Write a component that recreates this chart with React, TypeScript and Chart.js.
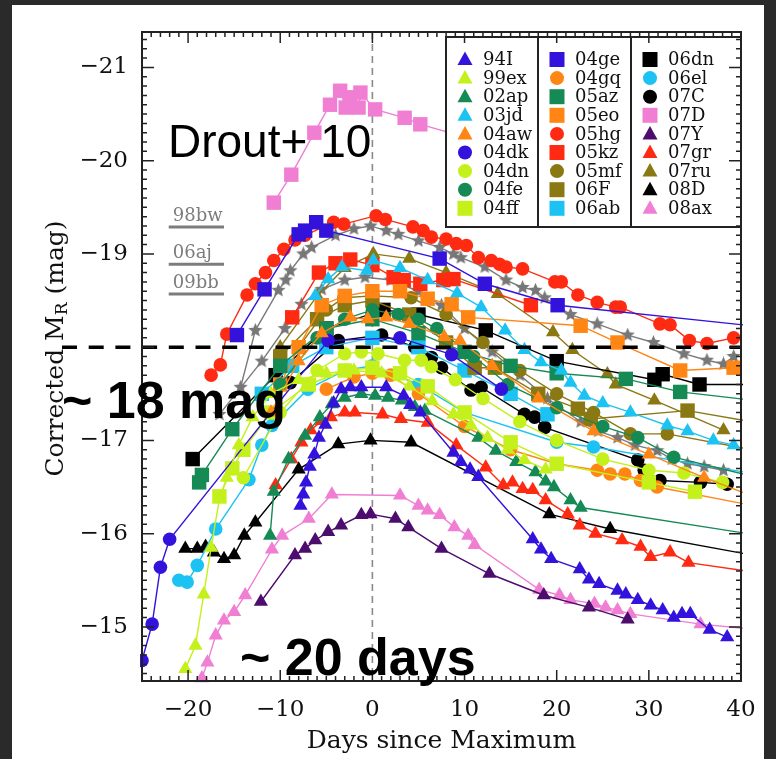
import React, { useEffect, useRef } from 'react';
import { Chart, registerables } from 'chart.js';
Chart.register(...registerables);

// ---------- axes ----------
const xRange = [-25, 40];
const yRange = [-21.38, -14.42];
const xTickValues = [-20, -10, 0, 10, 20, 30, 40];
const yTickValues = [-21, -20, -19, -18, -17, -16, -15];
const yTickLabels = ['\u221221', '\u221220', '\u221219', '', '\u221217', '\u221216', '\u221215'];
const xAxisTitle = 'Days since Maximum';
const yAxisTitleParts = ['Corrected M', 'R', ' (mag)'];

// ---------- light curves [day, corrected M_R] ----------
const sn94I = [[-7.8,-16.3],[-7.5,-16.42],[-7.2,-16.55],[-6.8,-16.72],[-6.3,-16.85],[-5.8,-17.03],[-5.1,-17.17],[-4.2,-17.4],[-3.4,-17.55],[-2.4,-17.57],[-1.2,-17.57],[1.5,-17.57],[3.4,-17.48],[4.1,-17.38],[5.2,-17.3],[8.8,-16.87],[9.6,-16.77],[10.6,-16.69],[11.5,-16.61],[17.4,-15.94],[18.3,-15.83],[19.4,-15.73],[22.5,-15.62],[23.5,-15.51],[24.6,-15.46],[26.6,-15.39],[27.5,-15.35],[28.8,-15.29],[30.2,-15.23],[31.5,-15.18],[32.7,-15.1],[33.6,-15.14],[34.5,-15.14],[36.6,-14.97],[38.5,-14.89]];
const sn99ex = [[-20.3,-14.55],[-19.2,-14.8],[-18.3,-15.35],[-17.5,-15.85],[-16.6,-16.37],[-15.8,-16.6],[-14.5,-16.95],[-13,-17.25],[-11,-17.5],[-8,-17.65],[-5,-17.72],[-2,-17.75],[1,-17.72],[4,-17.58],[6.5,-17.42],[8.8,-17.28],[10.7,-17.16],[12.5,-17.03],[14.7,-16.9],[16.5,-16.79],[18.8,-16.69]];
const sn02ap = [[-11.1,-15.98],[-10.7,-16.45],[-9.1,-16.8],[-7.3,-17.05],[-5.7,-17.25],[-4.4,-17.39],[-3,-17.46],[-1.2,-17.5],[0.3,-17.48],[1.7,-17.46],[3.2,-17.43],[4.6,-17.36],[5.7,-17.32],[11.5,-17.03],[13.4,-16.89],[15.6,-16.77],[17.7,-16.66],[18.8,-16.56],[19.7,-16.5],[21.5,-16.36],[22.6,-16.28],[44,-15.95]];
const sn03jd = [[-6.2,-18.55],[-4.8,-18.73],[-3.3,-18.86],[-0.6,-18.82],[0.1,-18.93],[3,-18.85],[6,-18.72],[9.2,-18.58],[11.8,-18.43],[14.4,-18.18],[16.5,-17.97],[18.3,-17.84],[20.5,-17.75],[21.5,-17.62],[23,-17.48],[25,-17.4],[28,-17.3],[32,-17.16],[34.2,-17.1],[37,-17.0],[39.2,-16.95]];
const sn04aw = [[-11,-17.3],[-8,-17.85],[-5.5,-18.15],[-2.4,-18.32],[-0.5,-18.3],[1.5,-18.32],[4,-18.25],[7.8,-18.11],[9.5,-18.07],[13,-17.8],[18,-17.45],[24,-17.1],[30,-16.85],[36,-16.6],[44,-16.3]];
const sn04dk = [[-25,-14.64],[-23.9,-15.03],[-23,-15.64],[-22,-15.94],[-4.8,-18.07],[3,-18.1],[8.6,-17.92],[14,-17.55]];
const sn04dn = [[-14,-16.6],[-10,-17.3],[-6,-17.75],[-3,-17.93],[-1.2,-17.95],[0.6,-17.93],[3.5,-17.86],[5.3,-17.86],[6.4,-17.79],[9,-17.65],[12,-17.45],[16,-17.2],[20,-17.0],[25,-16.8],[30,-16.68],[33.8,-16.65],[38,-16.55]];
const sn04fe = [[-10,-17.6],[-6,-18.1],[-3,-18.3],[0,-18.4],[2.8,-18.35],[5,-18.3],[7,-18.2],[11,-17.9],[14.7,-17.6],[20,-17.35],[25,-17.15],[28.8,-17.03],[32.7,-16.82],[44,-16.55]];
const sn04ff = [[-16.6,-16.4],[-15.2,-16.7],[-14,-16.9],[-11,-17.3],[-6.9,-17.6],[-3,-17.75],[0,-17.78],[3,-17.72],[6,-17.58],[10,-17.3],[15,-16.98],[20,-16.75],[30,-16.55],[35,-16.45]];
const sn04ge = [[-14.7,-18.13],[-11.7,-18.62],[-8,-19.21],[-7.3,-19.25],[-6.1,-19.34],[-5,-19.25],[7.3,-18.95],[12.2,-18.68],[20.1,-18.45],[44,-18.2]];
const sn04gq = [[-5,-17.55],[-2,-17.68],[0,-17.72],[2,-17.7],[5,-17.5],[10,-17.15],[15,-16.9],[20,-16.75],[24.4,-16.68],[25.8,-16.64],[27.4,-16.64],[29.1,-16.57],[30.9,-16.5],[44,-16.25]];
const sn05az = [[-18.8,-16.55],[-18.5,-16.63],[-15.2,-17.12],[-10,-17.8],[-5,-18.2],[0,-18.3],[5,-18.15],[10,-17.95],[15,-17.8],[20,-17.72],[27.5,-17.66],[33.4,-17.52],[44,-17.4]];
const sn05eo = [[-10,-17.6],[-8,-18.0],[-5.5,-18.45],[-3,-18.55],[0,-18.6],[3,-18.6],[6,-18.52],[8.6,-18.46],[10.4,-18.32],[22.6,-18.23],[26.6,-18.05],[33.4,-17.75],[39.2,-17.78]];
const sn05hg = [[-17.5,-17.7],[-16.5,-17.81],[-15.8,-18.14],[-13.6,-18.56],[-12.7,-18.68],[-11.6,-18.8],[-10.7,-18.93],[-9.6,-19.05],[-8.4,-19.15],[-7.3,-19.2],[-4.2,-19.34],[-3.1,-19.32],[0.4,-19.41],[1.4,-19.37],[4.4,-19.29],[5.5,-19.25],[6.4,-19.18],[8,-19.16],[9.1,-19.11],[10.2,-19.09],[11.5,-18.96],[12.9,-18.93],[13.8,-18.89],[14.5,-18.86],[16.3,-18.84],[19.8,-18.7],[20.5,-18.7],[22.3,-18.56],[24.4,-18.48],[26.4,-18.43],[26.9,-18.43],[31.2,-18.25],[32.3,-18.24],[34.4,-18.07],[36.3,-18.04],[39.2,-18.1]];
const sn05kz = [[-8.7,-18.32],[-5.8,-18.8],[-4,-18.9],[-2.4,-18.94],[0,-18.88],[2.3,-18.75],[3.4,-18.72],[5.2,-18.68],[7.7,-18.72],[8.8,-18.73],[17.2,-18.45]];
const sn05mf = [[-8,-18.0],[-5,-18.4],[-3.1,-18.53],[0,-18.55],[4.2,-18.53],[8,-18.35],[12,-18.05],[16,-17.75],[20,-17.5],[24,-17.3],[28,-17.07],[32,-17.07],[44,-16.85]];
const sn06F = [[-10,-17.9],[-6,-18.3],[-3,-18.45],[0,-18.5],[4,-18.35],[8,-18.05],[11.1,-17.78],[13.3,-17.78],[18,-17.5],[22.3,-17.34],[23.7,-17.23],[34.2,-17.32],[44,-17.15]];
const sn06ab = [[-12,-17.5],[-8.7,-17.8],[-5,-18.0],[0,-18.1],[5,-18.0],[10,-17.75],[15,-17.5],[19,-17.28]];
const sn06dn = [[-19.5,-16.8],[-10.5,-17.7],[-5,-18.2],[1.2,-18.4],[5,-18.35],[12.3,-18.18],[20,-17.85],[30.6,-17.65],[31.5,-17.71],[35.5,-17.6],[44,-17.6]];
const sn06el = [[-21,-15.5],[-20.1,-15.48],[-19,-15.66],[-17,-16.05],[-13.4,-16.58],[-12,-16.95],[-10.9,-17.16],[-7,-17.55],[-3,-17.75],[0,-17.8],[5,-17.6],[10,-17.3],[20,-16.98],[24,-16.93],[44,-16.6]];
const sn07C = [[-8.9,-17.62],[-3.7,-18.07],[1,-18.13],[4.6,-18.0],[6.4,-17.89],[7.5,-17.78],[10.7,-17.54],[11.8,-17.57],[16.5,-17.28],[17.6,-17.25],[18.7,-17.14],[28.8,-16.79],[29.5,-16.68],[31.2,-16.57],[35.6,-16.55],[38.5,-16.53]];
const sn07D = [[-10.7,-19.55],[-8.8,-19.85],[-6.3,-20.3],[-4.6,-20.6],[-3.5,-20.75],[-2.9,-20.57],[-2.4,-20.68],[-1.5,-20.57],[-1.3,-20.73],[0.3,-20.55],[3.5,-20.46],[5.2,-20.39],[12,-20.2]];
const sn07Y = [[-12.1,-15.27],[-8.4,-15.77],[-7.3,-15.84],[-6.2,-15.93],[-4.8,-16.02],[-3.4,-16.09],[-1.2,-16.2],[-0.2,-16.21],[2.5,-16.16],[3.9,-16.07],[7.5,-15.84],[12.7,-15.57],[18.6,-15.34],[23.5,-15.21],[27.7,-15.08]];
const sn07gr = [[-10.5,-16.52],[-8.8,-16.8],[-7.7,-16.98],[-6.7,-17.11],[-5.5,-17.21],[-4.5,-17.25],[-3,-17.3],[-1.9,-17.3],[1.1,-17.28],[3.1,-17.23],[6,-17.19],[9.1,-16.95],[12.3,-16.71],[14.2,-16.52],[15.2,-16.55],[16.3,-16.48],[17.4,-16.47],[18.8,-16.36],[21.2,-16.21],[22.5,-16.09],[24.2,-16.0],[27.1,-15.93],[29.1,-15.86],[30.2,-15.75],[32.3,-15.8],[34.3,-15.69],[44,-15.55]];
const sn07ru = [[-10,-18.0],[-6,-18.55],[-3,-18.85],[0.1,-19.0],[4,-18.95],[8,-18.8],[13.6,-18.57],[19.6,-18.16],[21.7,-17.97],[25.5,-17.71],[26.4,-17.6],[30.6,-17.43],[38.1,-17.11]];
const sn08D = [[-20.3,-15.84],[-19,-15.84],[-18.1,-15.86],[-17.2,-15.8],[-16.1,-15.73],[-15,-15.77],[-13.9,-15.98],[-12.7,-16.12],[-8,-16.69],[-3.7,-16.96],[-0.2,-17.0],[4.2,-16.98],[19.2,-16.21],[25.8,-16.05],[44,-15.72]];
const sn08ax = [[-18.5,-14.45],[-17.9,-14.62],[-17,-14.91],[-16.1,-15.07],[-15,-15.16],[-13.8,-15.34],[-10.9,-15.83],[-9.8,-15.98],[-6.9,-16.16],[-4.4,-16.42],[3,-16.41],[5,-16.3],[6,-16.25],[7.3,-16.2],[8.9,-16.07],[10.4,-15.98],[11.1,-15.88],[18.1,-15.4],[20.3,-15.34],[21.5,-15.29],[24.1,-15.25],[25.3,-15.21],[26.6,-15.18],[28,-15.14],[35.6,-15.03],[44,-14.95]];
// grey stars (broad-lined comparison curves)
const starCurveA = [[-14.3,-17.57],[-12.7,-18.18],[-10.2,-18.61],[-9.4,-18.72],[-8.9,-18.82],[-7.5,-19.0],[-6.6,-19.07],[-4,-19.2],[-2,-19.27],[-0.2,-19.3],[1.5,-19.25],[2.8,-19.21],[5,-19.14],[7.3,-19.07],[8.8,-19.0],[9.6,-18.96],[12.2,-18.86],[14.5,-18.72],[16.3,-18.64],[17.7,-18.61],[18.7,-18.53],[21.5,-18.35],[24.4,-18.25],[27.7,-18.13],[30.5,-18.05],[33.8,-17.93],[36.3,-17.86],[38.1,-17.82],[39.2,-17.9]];
const starCurveB = [[-16.6,-17.28],[-12,-17.85],[-9.5,-18.2],[-7.7,-18.46],[-5.5,-18.62],[-3,-18.72],[-0.8,-18.75],[2,-18.72],[5,-18.6],[7.5,-18.45],[10,-18.2],[13,-17.95],[16,-17.7],[19,-17.45],[22.6,-17.2],[24.5,-17.1],[26.6,-17.03],[28.5,-16.95],[30.9,-16.89],[32.5,-16.8],[34.2,-16.75],[36,-16.72],[38.1,-16.68]];

const seriesNames = ['94I','99ex','02ap','03jd','04aw','04dk','04dn','04fe','04ff',
  '04ge','04gq','05az','05eo','05hg','05kz','05mf','06F','06ab',
  '06dn','06el','07C','07D','07Y','07gr','07ru','08D','08ax'];
const seriesData = [sn94I, sn99ex, sn02ap, sn03jd, sn04aw, sn04dk, sn04dn, sn04fe, sn04ff,
  sn04ge, sn04gq, sn05az, sn05eo, sn05hg, sn05kz, sn05mf, sn06F, sn06ab,
  sn06dn, sn06el, sn07C, sn07D, sn07Y, sn07gr, sn07ru, sn08D, sn08ax];

// GRB-SN peak levels
const refNames = ['98bw', '06aj', '09bb'];
const refPeakMags = [-19.29, -18.89, -18.57];
const refDaySpan = [-22.1, -16.1];
const dashedLevel = -18;

// ---------- styles ----------
const C = {
  blue: '#3312dc', lime: '#c4f01c', green: '#158a55', cyan: '#1cc3f2', orange: '#ff8514',
  red: '#ff2a12', olive: '#8a7812', black: '#000000', pink: '#f07fd4', purple: '#4d0d6e', grey: '#7c7c7c',
};
const seriesColors = [C.blue, C.lime, C.green, C.cyan, C.orange, C.blue, C.lime, C.green, C.lime,
  C.blue, C.orange, C.green, C.orange, C.red, C.red, C.olive, C.olive, C.cyan,
  C.black, C.cyan, C.black, C.pink, C.purple, C.red, C.olive, C.black, C.pink];
const seriesShapes = ['triangle','triangle','triangle','triangle','triangle','circle','circle','circle','rect',
  'rect','circle','rect','rect','circle','rect','circle','rect','rect',
  'rect','circle','circle','rect','triangle','triangle','triangle','triangle','triangle'];
const radiusFor: Record<string, number> = { circle: 6.8, rect: 10.2, triangle: 8.2 };

const SERIF = '"DejaVu Serif", serif';
const SANS = '"Liberation Sans", Arial, sans-serif';

function makeStar(color: string, size: number) {
  const c = document.createElement('canvas');
  c.width = size; c.height = size;
  const g = c.getContext('2d')!;
  const cx = size / 2, cy = size / 2, R = size / 2, r = R * 0.45;
  g.beginPath();
  for (let i = 0; i < 10; i++) {
    const a = -Math.PI / 2 + (i * Math.PI) / 5;
    const rr = i % 2 === 0 ? R : r;
    const px = cx + rr * Math.cos(a), py = cy + rr * Math.sin(a);
    if (i === 0) g.moveTo(px, py); else g.lineTo(px, py);
  }
  g.closePath();
  g.fillStyle = color;
  g.fill();
  return c;
}

function drawMarker(ctx: CanvasRenderingContext2D, shape: string, x: number, y: number, color: string) {
  ctx.fillStyle = color;
  ctx.beginPath();
  if (shape === 'circle') ctx.arc(x, y, 7, 0, Math.PI * 2);
  else if (shape === 'rect') ctx.rect(x - 7.5, y - 7.5, 15, 15);
  else { ctx.moveTo(x, y - 8); ctx.lineTo(x - 7.5, y + 5.5); ctx.lineTo(x + 7.5, y + 5.5); ctx.closePath(); }
  ctx.fill();
}

const decor = {
  id: 'decor',
  beforeDatasetsDraw(chart: any) {
    const { ctx, chartArea: a, scales } = chart;
    const x0 = scales.x.getPixelForValue(0);
    ctx.save();
    ctx.strokeStyle = '#8a8a8a'; ctx.lineWidth = 1.6; ctx.setLineDash([7, 5]);
    ctx.beginPath(); ctx.moveTo(x0, a.top); ctx.lineTo(x0, a.bottom); ctx.stroke();
    ctx.restore();
  },
  afterDatasetsDraw(chart: any) {
    const { ctx, chartArea: a, scales } = chart;
    const xs = scales.x, ys = scales.y;
    ctx.save();

    // GRB-SN peak reference levels
    ctx.strokeStyle = C.grey; ctx.fillStyle = C.grey; ctx.lineWidth = 3;
    ctx.font = `18px ${SERIF}`; ctx.textBaseline = 'alphabetic'; ctx.textAlign = 'left';
    refNames.forEach((nm, i) => {
      const py = ys.getPixelForValue(refPeakMags[i]);
      const x1 = xs.getPixelForValue(refDaySpan[0]), x2 = xs.getPixelForValue(refDaySpan[1]);
      ctx.beginPath(); ctx.moveTo(x1, py); ctx.lineTo(x2, py); ctx.stroke();
      ctx.fillText(nm, x1 + 4, py - 6);
    });

    // dashed -18 mag line
    const yd = ys.getPixelForValue(dashedLevel);
    ctx.strokeStyle = '#000'; ctx.lineWidth = 3.5; ctx.setLineDash([15, 11.7]);
    ctx.beginPath(); ctx.moveTo(62, yd); ctx.lineTo(a.right, yd); ctx.stroke();
    ctx.setLineDash([]);

    // legend box
    const L = 446, T = 37, R = a.right, B = 227;
    ctx.fillStyle = '#fff'; ctx.fillRect(L, T, R - L, B - T);
    ctx.strokeStyle = '#222'; ctx.lineWidth = 2;
    ctx.strokeRect(L, T, R - L, B - T);
    const colX = [446, 538, 631];
    ctx.beginPath(); ctx.moveTo(538, T); ctx.lineTo(538, B); ctx.moveTo(631, T); ctx.lineTo(631, B); ctx.stroke();
    ctx.font = `18px ${SERIF}`; ctx.textBaseline = 'middle';
    seriesNames.forEach((nm, i) => {
      const col = Math.floor(i / 9), row = i % 9;
      const cy = 59.5 + row * 18.6;
      const mx = colX[col] + 19;
      drawMarker(ctx, seriesShapes[i], mx, cy, seriesColors[i]);
      ctx.fillStyle = '#111';
      ctx.fillText(nm, colX[col] + 37, cy + 1);
    });

    // frame and inward ticks
    ctx.strokeStyle = '#222'; ctx.lineWidth = 2;
    ctx.strokeRect(a.left, a.top, a.right - a.left, a.bottom - a.top);
    ctx.lineWidth = 1.5;
    ctx.beginPath();
    for (let d = Math.ceil(xRange[0]); d <= xRange[1]; d++) {
      const px = xs.getPixelForValue(d);
      const len = d % 10 === 0 ? 11 : 5;
      ctx.moveTo(px, a.bottom); ctx.lineTo(px, a.bottom - len);
      ctx.moveTo(px, a.top); ctx.lineTo(px, a.top + len);
    }
    for (let k = Math.ceil(yRange[0] * 10); k <= Math.floor(yRange[1] * 10); k++) {
      const py = ys.getPixelForValue(k / 10);
      const len = k % 10 === 0 ? 12 : 5;
      ctx.moveTo(a.left, py); ctx.lineTo(a.left + len, py);
      ctx.moveTo(a.right, py); ctx.lineTo(a.right - len, py);
    }
    ctx.stroke();

    // y-axis title with subscript
    ctx.save();
    ctx.translate(56, (a.top + a.bottom) / 2 - 8);
    ctx.rotate(-Math.PI / 2);
    ctx.fillStyle = '#111'; ctx.textBaseline = 'middle'; ctx.textAlign = 'left';
    ctx.font = `25px ${SERIF}`;
    const w0 = ctx.measureText(yAxisTitleParts[0]).width;
    const w2 = ctx.measureText(yAxisTitleParts[2]).width;
    ctx.font = `17px ${SERIF}`;
    const w1 = ctx.measureText(yAxisTitleParts[1]).width;
    const start = -(w0 + w1 + w2) / 2;
    ctx.font = `25px ${SERIF}`;
    ctx.fillText(yAxisTitleParts[0], start, 0);
    ctx.fillText(yAxisTitleParts[2], start + w0 + w1, 0);
    ctx.font = `17px ${SERIF}`;
    ctx.fillText(yAxisTitleParts[1], start + w0, 7);
    ctx.restore();

    // annotations
    ctx.fillStyle = '#000'; ctx.textAlign = 'left'; ctx.textBaseline = 'alphabetic';
    ctx.font = `46px ${SANS}`;
    ctx.fillText('Drout+ 10', 168, 157);
    ctx.font = `bold 52px ${SANS}`;
    ctx.fillText('~ 18 mag', 62, 418);
    ctx.fillText('~ 20 days', 240, 675);
    ctx.restore();
  },
};

export default function App() {
  const ref = useRef<HTMLCanvasElement>(null);
  useEffect(() => {
    const canvas = ref.current!;
    const star = makeStar('#777777', 15);
    const datasets: any[] = [];
    seriesData.forEach((arr, i) => {
      datasets.push({
        label: seriesNames[i],
        data: arr.map(([x, y]) => ({ x, y })),
        borderColor: seriesColors[i],
        backgroundColor: seriesColors[i],
        borderWidth: 1.4,
        pointStyle: seriesShapes[i],
        pointRadius: radiusFor[seriesShapes[i]],
        pointBackgroundColor: seriesColors[i],
        pointBorderColor: seriesColors[i],
        pointBorderWidth: 0,
        tension: 0,
        clip: 2,
      });
    });
    [starCurveA, starCurveB].forEach((arr, i) => {
      datasets.push({
        label: 'stars' + i,
        data: arr.map(([x, y]) => ({ x, y })),
        borderColor: '#7a7a7a',
        borderWidth: 1.4,
        pointStyle: star,
        pointRadius: 7,
        tension: 0,
        clip: 2,
      });
    });
    const tickFont = { family: SERIF, size: 23 };
    const titleFont = { family: SERIF, size: 25 };
    const chart = new Chart(canvas, {
      type: 'line',
      data: { datasets },
      plugins: [decor],
      options: {
        responsive: false,
        animation: false,
        events: [],
        layout: { padding: { top: 32, right: 35, left: 0, bottom: 0 } },
        plugins: { legend: { display: false }, tooltip: { enabled: false } },
        scales: {
          x: {
            type: 'linear', min: xRange[0], max: xRange[1],
            grid: { display: false, drawTicks: false }, border: { display: false },
            afterBuildTicks: (s: any) => { s.ticks = xTickValues.map((v) => ({ value: v })); },
            afterFit: (s: any) => { s.height = 78; },
            ticks: {
              font: tickFont, color: '#111', padding: 15, autoSkip: false, maxRotation: 0,
              callback: (v: any) => (Number(v) < 0 ? '\u2212' + Math.abs(Number(v)) : String(v)),
            },
            title: { display: true, text: xAxisTitle, font: titleFont, color: '#111', padding: { top: 0, bottom: 3 } },
          },
          y: {
            type: 'linear', reverse: true, min: yRange[0], max: yRange[1],
            grid: { display: false, drawTicks: false }, border: { display: false },
            afterBuildTicks: (s: any) => { s.ticks = yTickValues.map((v) => ({ value: v })); },
            afterFit: (s: any) => { s.width = 142; },
            ticks: {
              font: tickFont, color: '#111', padding: 14, autoSkip: false,
              callback: (_v: any, i: number) => yTickLabels[i],
            },
          },
        },
      },
    });
    return () => chart.destroy();
  }, []);
  return (
    <div style={{ position: 'fixed', left: 0, top: 0, width: 776, height: 759, background: '#2a2a2a', overflow: 'hidden' }}>
      <div style={{ position: 'absolute', left: 12, top: 5, width: 752, height: 754, background: '#ffffff' }} />
      <canvas ref={ref} width={776} height={759} style={{ position: 'absolute', left: 0, top: 0, width: 776, height: 759 }} />
    </div>
  );
}
